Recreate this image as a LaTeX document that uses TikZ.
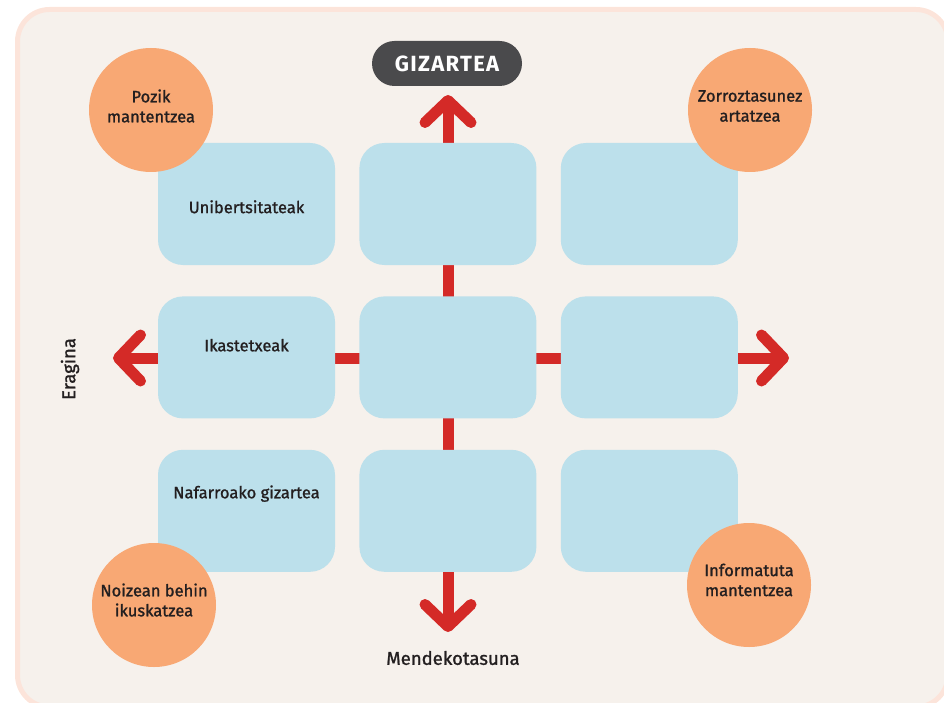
\documentclass[tikz,border=0pt]{standalone}
\usepackage{fontspec}
\setmainfont{Fira Sans}
\usepackage{tikz}
\usetikzlibrary{arrows.meta,positioning,calc,shapes}
\definecolor{paper}{HTML}{F6F1EC}
\definecolor{paperedge}{HTML}{FCE4DA}
\definecolor{cell}{HTML}{BCE0EB}
\definecolor{dot}{HTML}{F8A874}
\definecolor{axisred}{HTML}{D42A27}
\definecolor{pill}{HTML}{4A4A4C}
\definecolor{ink}{HTML}{231F20}
\tikzset{
  cellbox/.style={
    fill=cell,
    rounded corners=25pt,
    minimum width=177pt,
    minimum height=122pt,
    inner sep=0pt
  },
  dotnode/.style={
    circle,
    fill=dot,
    minimum size=124pt,
    inner sep=0pt
  },
  celltext/.style={
    text=ink,
    align=center,
    font=\fontsize{16.5}{20}\selectfont\addfontfeatures{FakeBold=1.2}
  },
  axislabel/.style={
    celltext,
    font=\fontsize{18.5}{22}\selectfont\addfontfeatures{FakeBold=1.2}
  },
  axisline/.style={
    draw=axisred,
    line width=11pt,
    {Straight Barb[length=22pt,width=46pt,line cap=round,line join=round]}-{Straight Barb[length=22pt,width=46pt,line cap=round,line join=round]}
  }
}

\begin{document}
\begin{tikzpicture}[x=1pt,y=-1pt,node distance=31pt and 24pt]
    \useasboundingbox (0,0) rectangle (944,703);
    \draw[line width=5pt,draw=paperedge,fill=paper,rounded corners=32pt] (17.5,9.5) rectangle (948,707);

    % axes
    \coordinate (up) at (448,95);
    \coordinate (down) at (448,632);
    \coordinate (left) at (113,358);
    \coordinate (right) at (789,358);
    \path[axisline] (down) -- (up);
    \path[axisline] (left) -- (right);

    \path{
      node[cellbox] (b11) at (246.5,204) {}
      node[cellbox] (b12) [right=of b11] {}
      node[cellbox] (b13) [right=of b12] {}
      node[cellbox] (b21) [below=of b11] {}
      node[cellbox] (b22) [right=of b21] {}
      node[cellbox] (b23) [right=of b22] {}
      node[cellbox] (b31) [below=of b21] {}
      node[cellbox] (b32) [right=of b31] {}
      node[cellbox] (b33) [right=of b32] {}
    };

    \node[celltext] (uni) at ($(b11.north)+(0,64)$) {Unibertsitateak};
    \node[celltext] (ikas) at ($(b21.north)+(0,49)$) {Ikastetxeak};
    \node[celltext] (nafar) at ($(b31.north)+(0,44)$) {Nafarroako gizartea};

    \path{
      node[dotnode] (pozik) at (151,110) {}
      node[dotnode] (zorro) at (750,110) {}
      node[dotnode] (noiz) at (154,605) {}
      node[dotnode] (info) at (749,585) {}
    };
    \node[celltext] (poziktxt) at ($(pozik)+(0,-4)$) {Pozik\\mantentzea};
    \node[celltext] (zorrotxt) at ($(zorro)+(0,-4)$) {Zorroztasunez\\artatzea};
    \node[celltext] (noiztxt) at ($(noiz)+(0,-5)$) {Noizean behin\\ikuskatzea};
    \node[celltext] (infotxt) at ($(info)+(0,-5)$) {Informatuta\\mantentzea};

    \node[fill=pill,rounded corners=22.5pt,minimum width=150pt,minimum height=45pt,inner sep=0pt,
      text=white,font=\fontsize{22}{26}\selectfont\bfseries\addfontfeatures{LetterSpace=6}] (gizartea) at (447,63.5) {GIZARTEA};
    \node[axislabel,rotate=90] (eragina) at (70,369) {Eragina};
    \node[axislabel] (mende) at (453,658) {Mendekotasuna};
\end{tikzpicture}
\end{document}
